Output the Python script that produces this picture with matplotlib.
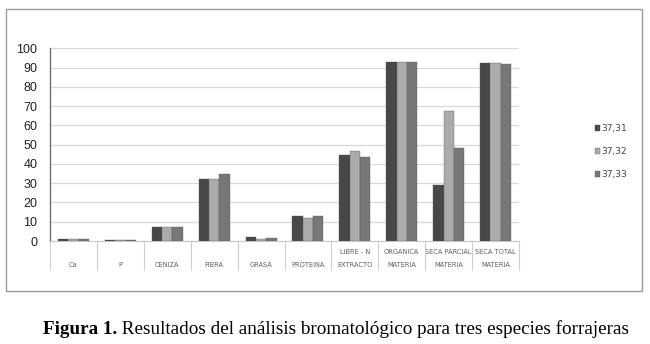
import numpy as np
import matplotlib
matplotlib.use('Agg')
import matplotlib.pyplot as plt
from matplotlib.patches import Rectangle

# nutrient categories (upper line / lower line of each label)
cat_top = ['', '', '', '', '', '', 'LIBRE - N', 'ORGANICA', 'SECA PARCIAL', 'SECA TOTAL']
cat_bottom = ['Ca', 'P', 'CENIZA', 'FIBRA', 'GRASA', 'PROTEINA', 'EXTRACTO',
              'MATERIA', 'MATERIA', 'MATERIA']

series_names = ['37,31', '37,32', '37,33']
s3731 = [1.3, 0.6, 7.2, 32.1, 2.3, 13.0, 44.6, 92.7, 29.0, 92.2]
s3732 = [0.9, 0.5, 7.1, 32.1, 1.1, 12.0, 46.9, 93.0, 67.6, 92.2]
s3733 = [0.9, 0.5, 7.2, 34.7, 1.8, 13.0, 43.4, 92.7, 48.3, 91.7]
colors = ['#484848', '#ababab', '#777777']

fig = plt.figure(figsize=(6.5, 3.44), dpi=100)
ax = fig.add_axes([0.0769, 0.2994, 0.7216, 0.5602])

x = np.arange(len(cat_bottom))
w = 0.22
for i, (vals, name, c) in enumerate(zip([s3731, s3732, s3733], series_names, colors)):
    ax.bar(x + (i - 1) * w, vals, width=w, color=c, edgecolor='#555555',
           linewidth=0.25, label=name, zorder=3)

ax.set_xlim(-0.5, len(cat_bottom) - 0.5)
ax.set_ylim(0, 100)
ax.set_yticks(np.arange(0, 101, 10))
ax.yaxis.grid(True, color='#d9d9d9', linewidth=0.9, zorder=0)
ax.tick_params(axis='y', length=0, pad=9, labelsize=9, labelcolor='#222222')
for t in ax.get_yticklabels():
    t.set_fontfamily('Liberation Sans')

for s in ['top', 'right']:
    ax.spines[s].set_visible(False)
ax.spines['left'].set_color('#707070')
ax.spines['left'].set_linewidth(1.0)
ax.spines['bottom'].set_color('#c8c8c8')

# category separators under the axis
ax.set_xticks(np.arange(-0.5, len(cat_bottom), 1), minor=True)
ax.tick_params(axis='x', which='minor', length=21, color='#cfcfcf', width=0.8)
ax.set_xticks(x)
ax.set_xticklabels([f'{a}\n\n{b}' for a, b in zip(cat_top, cat_bottom)],
                   fontsize=4.8, color='#606060', linespacing=1.1)
ax.tick_params(axis='x', which='major', length=0, pad=6)

leg = fig.legend(loc='upper left', bbox_to_anchor=(0.908, 0.652), frameon=False,
                 fontsize=6.5, handlelength=0.6, handleheight=0.6,
                 handletextpad=0.15, labelspacing=1.55, borderpad=0)
for t in leg.get_texts():
    t.set_color('#444444')

# frame around the chart
fig.patches.append(Rectangle((5.5 / 650, 1 - 291 / 344), 636.5 / 650, 282.5 / 344,
                             transform=fig.transFigure, fill=False,
                             edgecolor='#9a9a9a', linewidth=1.0))

bold = fig.text(0.066, 0.016, 'Figura 1.', fontsize=13.8, fontweight='bold',
                family='Liberation Serif', va='bottom', ha='left')
rest = matplotlib.text.Annotation(
    ' Resultados del análisis bromatológico para tres especies forrajeras',
    xy=(1, 0), xycoords=bold, va='bottom', ha='left', fontsize=13.8,
    family='Liberation Serif')
fig.add_artist(rest)

fig.savefig('out.png', dpi=100)
